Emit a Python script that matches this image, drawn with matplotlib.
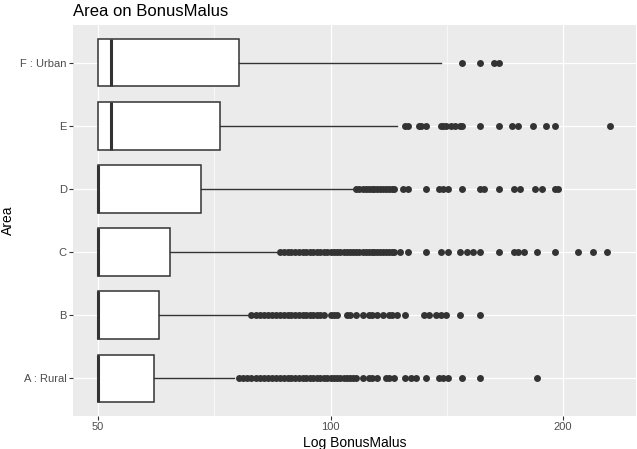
import matplotlib
matplotlib.use("Agg")
import matplotlib.pyplot as plt
from matplotlib.ticker import FixedLocator, NullFormatter

plt.rcParams["font.family"] = ["Liberation Sans", "DejaVu Sans"]

# boxplot stats per Area (BonusMalus values)
areas = ["A : Rural", "B", "C", "D", "E", "F : Urban"]
q1 = [50, 50, 50, 50, 50, 50]
medians = [50, 50, 50, 50, 52, 52]
q3 = [59, 60, 62, 68, 72, 76]
whisker_lo = [50, 50, 50, 50, 50, 50]
whisker_hi = [75, 78, 85, 107, 122, 139]

outliers_a = [76, 77, 78, 79, 80, 81, 82, 83, 84, 85, 86, 87, 88, 89, 90, 91, 92,
              93, 94, 95, 96, 97, 98, 99, 100, 101, 102, 103, 104, 105, 106, 107, 108,
              110, 112, 113, 115, 118, 119, 121, 125, 127, 129, 133, 138, 140, 142,
              148, 156, 185]
outliers_b = [79, 80, 81, 82, 83, 84, 85, 86, 87, 88, 89, 90, 91, 92, 93, 94, 95,
              96, 97, 98, 100, 101, 102, 105, 106, 108, 110, 112, 113, 115, 117, 119,
              120, 122, 125, 132, 134, 137, 139, 141, 147, 156]
outliers_c = [86, 87, 88, 89, 90, 91, 92, 93, 94, 95, 96, 97, 98, 99, 100, 101, 102,
              103, 104, 105, 106, 107, 108, 109, 110, 111, 112, 113, 114, 115, 116, 117,
              118, 119, 120, 121, 123, 126, 133, 139, 142, 147, 150, 153, 156, 165,
              173, 175, 178, 185, 195, 209, 219, 228]
outliers_d = [108, 109, 110, 111, 112, 113, 114, 115, 116, 117, 118, 119, 120, 121,
              124, 126, 133, 138, 140, 142, 148, 156, 158, 165, 173, 176, 184, 188,
              195, 197]
outliers_e = [125, 126, 130, 131, 133, 139, 140, 141, 143, 145, 147, 148, 156, 165,
              172, 175, 183, 190, 195, 230]
outliers_f = [148, 156, 163, 165]
outliers = [outliers_a, outliers_b, outliers_c, outliers_d, outliers_e, outliers_f]

x_ticks = [50, 100, 200]
x_tick_labels = ["50", "100", "200"]

stats = []
for i, name in enumerate(areas):
    stats.append({
        "label": name,
        "q1": q1[i],
        "med": medians[i],
        "q3": q3[i],
        "whislo": whisker_lo[i],
        "whishi": whisker_hi[i],
        "fliers": outliers[i],
    })

W, H = 637, 449
fig = plt.figure(figsize=(W / 100, H / 100), dpi=100)
ax = fig.add_axes([73 / W, (H - 416) / H, (636 - 73) / W, (416 - 25) / H])
ax.set_facecolor("#EBEBEB")
for s in ax.spines.values():
    s.set_visible(False)

ink = "#333333"
ax.bxp(
    stats,
    positions=range(1, len(areas) + 1),
    widths=0.75,
    orientation="horizontal",
    patch_artist=True,
    showcaps=False,
    boxprops=dict(facecolor="white", edgecolor=ink, linewidth=1.1),
    whiskerprops=dict(color=ink, linewidth=1.0),
    medianprops=dict(color=ink, linewidth=2.2, solid_capstyle="butt"),
    flierprops=dict(marker="o", markerfacecolor=ink, markeredgecolor="none",
                    markersize=5),
)

ax.set_xscale("log")
ax.set_xlim(46.4, 248.6)
ax.set_ylim(0.4, 6.6)
ax.set_xticks(x_ticks)
ax.set_xticklabels(x_tick_labels)
ax.xaxis.set_minor_locator(FixedLocator([70.71, 141.42]))
ax.xaxis.set_minor_formatter(NullFormatter())
ax.set_yticks(range(1, len(areas) + 1))
ax.set_yticklabels(areas)

ax.set_axisbelow(True)
ax.grid(which="major", color="white", linewidth=0.9)
ax.grid(which="minor", axis="x", color="white", linewidth=0.45)
ax.tick_params(which="major", length=3, width=0.8, color=ink,
               labelsize=8, labelcolor="#4D4D4D", pad=1.5)
ax.tick_params(which="minor", length=0)

ax.set_xlabel("Log BonusMalus", fontsize=10, labelpad=2.5)
ax.set_ylabel("Area", fontsize=10, labelpad=4)
fig.text(73 / W, 1 - 16 / H, "Area on BonusMalus", fontsize=12, va="baseline")

fig.savefig("out.png", dpi=100)
